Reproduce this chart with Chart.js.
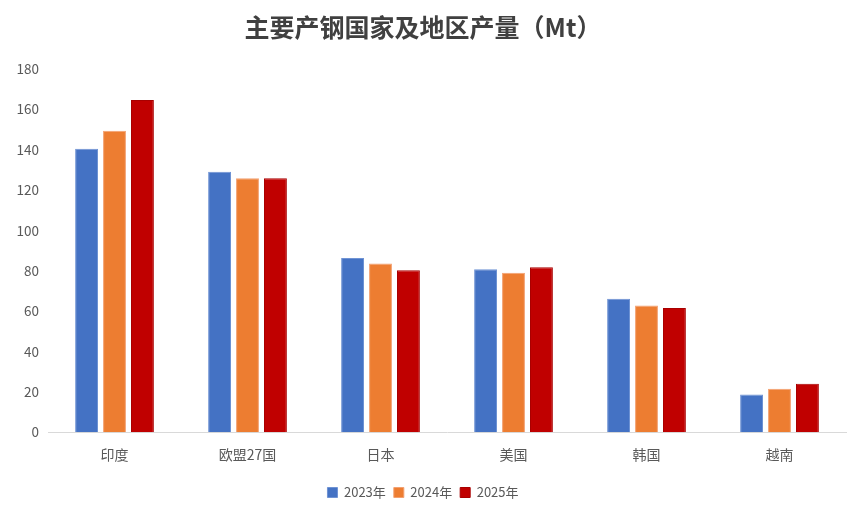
<!DOCTYPE html>
<html>
<head>
<meta charset="utf-8">
<script src="https://cdn.jsdelivr.net/npm/chart.js@4"></script>
<style>
  html, body { margin: 0; padding: 0; background: #fff; }
  #wrap { width: 865px; height: 517px; }
</style>
</head>
<body>
<div id="wrap"><canvas id="chart"></canvas></div>
<script>
// Chart data
const categories = ['印度', '欧盟27国', '日本', '美国', '韩国', '越南'];
const seriesNames = ['2023年', '2024年', '2025年'];
const values2023 = [140.5, 129.1, 86.3, 80.8, 66.1, 18.7];
const values2024 = [149.4, 125.9, 83.6, 79.0, 62.8, 21.5];
const values2025 = [164.6, 125.9, 80.3, 81.7, 61.5, 24.0];
const yTicks = [0, 20, 40, 60, 80, 100, 120, 140, 160, 180];

const colors = ['#4472C4', '#ED7D31', '#C00000'];
const edges = ['#6f93d4', '#f3a070', '#a80000'];
const font = '"Noto Sans CJK SC", "Noto Sans", sans-serif';

const ctx = document.getElementById('chart').getContext('2d');
new Chart(ctx, {
  type: 'bar',
  data: {
    labels: categories,
    datasets: [values2023, values2024, values2025].map((vals, i) => ({
      label: seriesNames[i],
      data: vals,
      backgroundColor: colors[i],
      borderColor: edges[i],
      borderWidth: 1,
      barPercentage: 0.82,
      categoryPercentage: 0.63
    }))
  },
  options: {
    responsive: true,
    maintainAspectRatio: false,
    animation: false,
    layout: { padding: { left: 0, right: 19, top: 10, bottom: 8 } },
    plugins: {
      title: {
        display: true,
        text: '主要产钢国家及地区产量（Mt）',
        color: '#404040',
        font: { family: font, size: 25, weight: 'bold' },
        padding: { top: 2, bottom: 27 }
      },
      legend: {
        position: 'bottom',
        labels: {
          color: '#595959',
          font: { family: font, size: 13 },
          boxWidth: 10,
          boxHeight: 10,
          padding: 8
        }
      },
      tooltip: { enabled: false }
    },
    scales: {
      x: {
        afterFit: axis => { axis.height += 9; },
        grid: { display: false },
        border: { color: '#d9d9d9', width: 1 },
        ticks: { color: '#595959', font: { family: font, size: 14 }, padding: 6 }
      },
      y: {
        min: 0,
        max: 180,
        afterBuildTicks: axis => { axis.ticks = yTicks.map(v => ({ value: v })); },
        afterFit: axis => { axis.width = 48; },
        grid: { display: false, drawTicks: false },
        border: { display: false },
        ticks: { color: '#595959', font: { family: font, size: 13.5 }, padding: 9 }
      }
    }
  }
});
</script>
</body>
</html>
